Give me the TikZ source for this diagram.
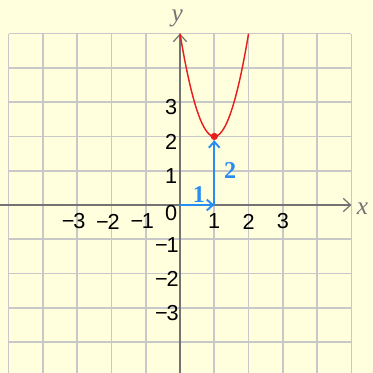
\documentclass[tikz,border=0pt]{standalone}
\usepackage{fontspec}
\setmainfont{Liberation Serif}
\setsansfont{Liberation Sans}
\usetikzlibrary{arrows.meta}
\definecolor{paper}{RGB}{255,255,221}
\definecolor{gridgray}{RGB}{200,200,200}
\definecolor{axisgray}{RGB}{115,115,115}
\definecolor{stepblue}{RGB}{40,140,240}
\definecolor{curvered}{RGB}{230,30,30}

\begin{document}
\begin{tikzpicture}[
        gridline/.style={gridgray, line width=1.4pt},
        axisline/.style={axisgray, line width=1pt, -{Straight Barb[length=6pt,width=11pt]}},
        ticknum/.style={font=\sffamily\fontsize{18}{18}\selectfont, inner sep=0pt},
        axislabel/.style={axisgray, font=\itshape\fontsize{21}{21}\selectfont, inner sep=0pt},
        stepline/.style={stepblue, line width=1.6pt, -{Straight Barb[length=5pt,width=9pt]}},
        steplabel/.style={stepblue, font=\bfseries\fontsize{20}{20}\selectfont, inner sep=0pt}]

        % Hintergrund
        \fill[paper] (-5.25,-4.9) rectangle (5.63,5.98);
        \useasboundingbox (-5.25,-4.9) rectangle (5.63,5.98);

        % Gitter
        \foreach \i in {-5,...,5}
            \draw[gridline] (\i,-4.9) -- (\i,5);
        \foreach \i in {-4,...,5}
            \draw[gridline] (-5,\i) -- (5,\i);

        % Achsen
        \coordinate (xl) at (-5.25,0);
        \coordinate (xr) at (5,0);
        \coordinate (yb) at (0,-4.9);
        \coordinate (yt) at (0,5);
        \draw[axisline] (xl) -- (xr);
        \draw[axisline] (yb) -- (yt);
        \node[axislabel] (xlab) at (5.32,-0.12) {x};
        \node[axislabel] (ylab) at (-0.08,5.45) {y};

        % Beschriftung
        \node[ticknum] (null) at (-0.26,-0.24) {0};
        \foreach \n in {1,2,3} {
            \node[ticknum] (xp\n) at (\n,-0.48) {\n};
            \node[ticknum] (xm\n) at (-\n-0.1,-0.48) {−\kern-1pt\n};
            \node[ticknum] (yp\n) at (-0.26,\n-0.15) {\n};
            \node[ticknum] (ym\n) at (-0.38,-\n-0.16) {−\kern-1pt\n};
        }

        % Parabel
        \draw[curvered, line width=1.2pt, domain=0:2, samples=60] plot (\x, {3*(\x-1)^2+2});
        \node[circle, fill=curvered, inner sep=0pt, minimum size=6pt] (vertex) at (1,2) {};

        % Verschiebung
        \coordinate (o) at (0,0);
        \coordinate (p) at (1,0);
        \draw[stepline] (o) -- (p);
        \draw[stepline] (p) -- (vertex);
        \node[steplabel] (right) at (0.55,0.3) {1};
        \node[steplabel] (up) at (1.46,1.02) {2};

    \end{tikzpicture}
\end{document}
